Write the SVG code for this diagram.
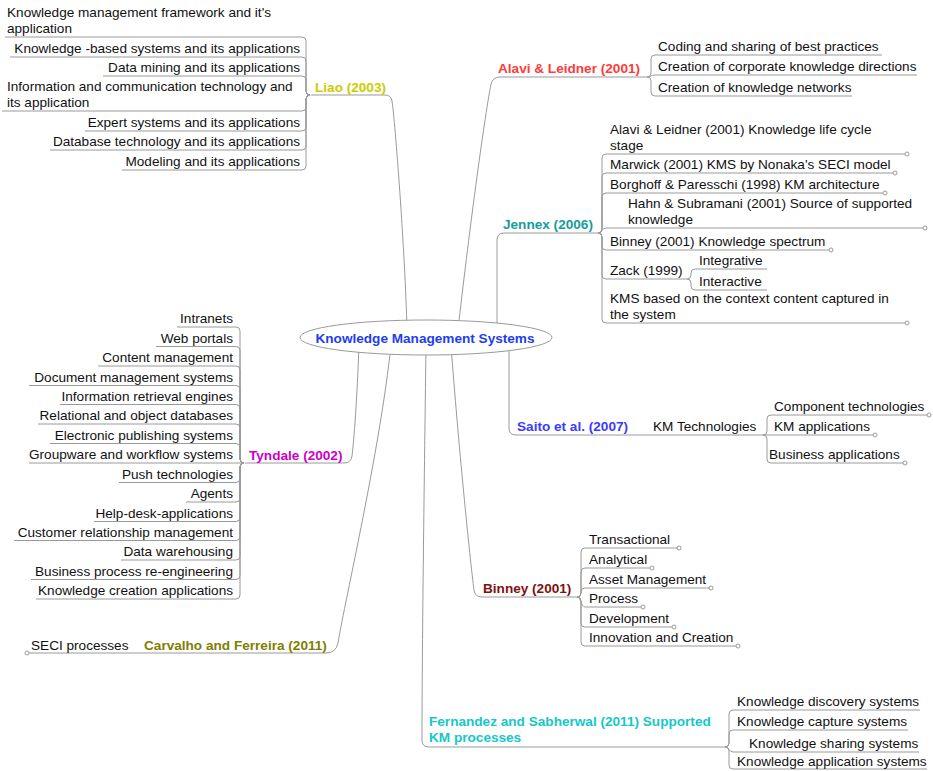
<svg xmlns="http://www.w3.org/2000/svg" width="933" height="771" viewBox="0 0 933 771">
<style>
text{font-family:"Liberation Sans",Arial,sans-serif;font-size:13.6px;fill:#111}
.b{font-weight:bold}
.e{text-anchor:end}
.c{fill:none;stroke:#9a9a9a;stroke-width:1}
.d{fill:#fff;stroke:#9a9a9a;stroke-width:1}
</style>
<rect width="933" height="771" fill="#fff"/>
<g id="connectors">
<!-- main branches -->
<path class="c" d="M407,330 C405,250 395,120 392,101 Q391,95 385,95 H311"/>
<path class="c" d="M458,330 C468,240 484,120 491,84 Q493,77 500,77 H647"/>
<path class="c" d="M497,330 V240 Q497,233 504,233 H598"/>
<path class="c" d="M509,345 V428 Q509,435 516,435 H763"/>
<path class="c" d="M451,345 C458,440 470,560 474,590 Q475,597 482,597 H577"/>
<path class="c" d="M426,345 C424,500 422,650 422,740 Q422,747 429,747 H725"/>
<path class="c" d="M391,345 C380,450 345,600 338,643 Q336,653 326,653 H29"/>
<path class="c" d="M359,345 C357,400 354,440 352,456 Q351,463 344,463 H245"/>
<!-- Liao children -->
<path class="c" d="M310,95 Q306,95 306,91 V41 Q306,37 302,37 H5"/>
<path class="c" d="M310,95 Q306,95 306,91 V61 Q306,57 302,57 H10"/>
<path class="c" d="M310,95 Q306,95 306,91 V80 Q306,76 302,76 H103"/>
<path class="c" d="M310,95 Q306,95 306,99 V107 Q306,111 302,111 H2"/>
<path class="c" d="M310,95 Q306,95 306,99 V127 Q306,131 302,131 H85"/>
<path class="c" d="M310,95 Q306,95 306,99 V146 Q306,150 302,150 H50"/>
<path class="c" d="M310,95 Q306,95 306,99 V166 Q306,170 302,170 H122"/>
<!-- Tyndale children -->
<path class="c" d="M244,463 Q240,463 240,459 V331 Q240,327 236,327 H177"/>
<path class="c" d="M244,463 Q240,463 240,459 V350.5 Q240,346.5 236,346.5 H156"/>
<path class="c" d="M244,463 Q240,463 240,459 V370 Q240,366 236,366 H98"/>
<path class="c" d="M244,463 Q240,463 240,459 V389.5 Q240,385.5 236,385.5 H29"/>
<path class="c" d="M244,463 Q240,463 240,459 V408.5 Q240,404.5 236,404.5 H60"/>
<path class="c" d="M244,463 Q240,463 240,459 V428 Q240,424 236,424 H38"/>
<path class="c" d="M244,463 Q240,463 240,459 V447.5 Q240,443.5 236,443.5 H50"/>
<path class="c" d="M244,463 H29"/>
<path class="c" d="M244,463 Q240,463 240,467 V478.5 Q240,482.5 236,482.5 H119"/>
<path class="c" d="M244,463 Q240,463 240,467 V498 Q240,502 236,502 H186"/>
<path class="c" d="M244,463 Q240,463 240,467 V517.5 Q240,521.5 236,521.5 H94"/>
<path class="c" d="M244,463 Q240,463 240,467 V536.5 Q240,540.5 236,540.5 H14"/>
<path class="c" d="M244,463 Q240,463 240,467 V556 Q240,560 236,560 H121"/>
<path class="c" d="M244,463 Q240,463 240,467 V575.5 Q240,579.5 236,579.5 H31"/>
<path class="c" d="M244,463 Q240,463 240,467 V595 Q240,599 236,599 H36"/>
<!-- Alavi children -->
<path class="c" d="M647,77 Q651,77 651,73 V59 Q651,55 655,55 H882"/>
<path class="c" d="M647,77 C651,77 651,75 655,75 H917"/>
<path class="c" d="M647,77 Q651,77 651,81 V92 Q651,96 655,96 H852"/>
<!-- Jennex children -->
<path class="c" d="M598,233 Q602,233 602,229 V158 Q602,154 606,154 H905"/>
<path class="c" d="M598,233 Q602,233 602,229 V177 Q602,173 606,173 H893"/>
<path class="c" d="M598,233 Q602,233 602,229 V197 Q602,193 606,193 H883"/>
<path class="c" d="M598,233 C602,233 602,228 606,228 H923"/>
<path class="c" d="M598,233 Q602,233 602,237 V246 Q602,250 606,250 H829"/>
<path class="c" d="M598,233 Q602,233 602,237 V275 Q602,279 606,279 H687"/>
<path class="c" d="M598,233 Q602,233 602,237 V319 Q602,323 606,323 H905"/>
<!-- Zack children -->
<path class="c" d="M687,279 Q691,279 691,275 V273 Q691,269 695,269 H767"/>
<path class="c" d="M687,279 Q691,279 691,283 V286 Q691,290 695,290 H767"/>
<!-- KM Technologies children -->
<path class="c" d="M763,435 Q767,435 767,431 V419 Q767,415 771,415 H927"/>
<path class="c" d="M763,435 H873"/>
<path class="c" d="M763,435 Q767,435 767,439 V459 Q767,463 771,463 H903"/>
<!-- Binney children -->
<path class="c" d="M577,597 Q581,597 581,593 V552 Q581,548 585,548 H677"/>
<path class="c" d="M577,597 Q581,597 581,593 V572 Q581,568 585,568 H650"/>
<path class="c" d="M577,597 Q581,597 581,593 V592 Q581,588 585,588 H709"/>
<path class="c" d="M577,597 C581,597 581,607 585,607 H641"/>
<path class="c" d="M577,597 Q581,597 581,601 V623 Q581,627 585,627 H672"/>
<path class="c" d="M577,597 Q581,597 581,601 V642 Q581,646 585,646 H736"/>
<!-- Fernandez children -->
<path class="c" d="M725,747 Q729,747 729,743 V714 Q729,710 733,710 H920"/>
<path class="c" d="M725,747 Q729,747 729,743 V734 Q729,730 733,730 H908"/>
<path class="c" d="M725,747 C729,747 729,752 733,752 H919"/>
<path class="c" d="M725,747 Q729,747 729,751 V765 Q729,769 733,769 H927"/>
<!-- end markers -->
<circle class="d" cx="907" cy="154" r="2"/>
<circle class="d" cx="895" cy="173" r="2"/>
<circle class="d" cx="885" cy="193" r="2"/>
<circle class="d" cx="925" cy="228" r="2"/>
<circle class="d" cx="831" cy="250" r="2"/>
<circle class="d" cx="907" cy="323" r="2"/>
<circle class="d" cx="929" cy="415" r="2"/>
<circle class="d" cx="875" cy="435" r="2"/>
<circle class="d" cx="905" cy="463" r="2"/>
<circle class="d" cx="679" cy="548" r="2"/>
<circle class="d" cx="652" cy="568" r="2"/>
<circle class="d" cx="711" cy="588" r="2"/>
<circle class="d" cx="643" cy="607" r="2"/>
<circle class="d" cx="674" cy="627" r="2"/>
<circle class="d" cx="738" cy="646" r="2"/>
<circle class="d" cx="27" cy="653" r="2"/>
</g>
<g id="center">
<ellipse cx="426" cy="337.5" rx="126" ry="17.5" fill="#fff" stroke="#9a9a9a" stroke-width="1"/>
<text class="b" x="425" y="343" text-anchor="middle" style="fill:#1e3cf0">Knowledge Management Systems</text>
</g>
<g id="liao">
<text class="b" x="315" y="92" style="fill:#cccc00">Liao (2003)</text>
</g>
<g id="liao-children">
<text x="7" y="17">Knowledge management framework and it's</text>
<text x="7" y="33">application</text>
<text class="e" x="300" y="53">Knowledge -based systems and its applications</text>
<text class="e" x="300" y="72">Data mining and its applications</text>
<text x="7" y="91">Information and communication technology and</text>
<text x="7" y="107">its application</text>
<text class="e" x="300" y="127">Expert systems and its applications</text>
<text class="e" x="300" y="146">Database technology and its applications</text>
<text class="e" x="300" y="166">Modeling and its applications</text>
</g>
<g id="alavi">
<text class="b" x="498" y="73" style="fill:#ff3b3b">Alavi &amp; Leidner (2001)</text>
</g>
<g id="alavi-children">
<text x="658" y="51">Coding and sharing of best practices</text>
<text x="658" y="71">Creation of corporate knowledge directions</text>
<text x="658" y="92">Creation of knowledge networks</text>
</g>
<g id="jennex">
<text class="b" x="503" y="229" style="fill:#169c9c">Jennex (2006)</text>
</g>
<g id="jennex-children">
<text x="610" y="134">Alavi &amp; Leidner (2001) Knowledge life cycle</text>
<text x="610" y="150">stage</text>
<text x="610" y="169">Marwick (2001) KMS by Nonaka's SECI model</text>
<text x="610" y="189">Borghoff &amp; Paresschi (1998) KM architecture</text>
<text x="628" y="208">Hahn &amp; Subramani (2001) Source of supported</text>
<text x="628" y="224">knowledge</text>
<text x="610" y="246">Binney (2001) Knowledge spectrum</text>
<text x="610" y="303">KMS based on the context content captured in</text>
<text x="610" y="319">the system</text>
</g>
<g id="zack">
<text x="610" y="275">Zack (1999)</text>
<text x="699" y="265">Integrative</text>
<text x="699" y="286">Interactive</text>
</g>
<g id="saito">
<text class="b" x="517" y="431" style="fill:#3b3bff">Saito et al. (2007)</text>
</g>
<g id="km-technologies">
<text x="653" y="431">KM Technologies</text>
<text x="774" y="411">Component technologies</text>
<text x="774" y="431">KM applications</text>
<text x="769" y="459">Business applications</text>
</g>
<g id="binney">
<text class="b" x="483" y="593" style="fill:#7f1010">Binney (2001)</text>
</g>
<g id="binney-children">
<text x="589" y="544">Transactional</text>
<text x="589" y="564">Analytical</text>
<text x="589" y="584">Asset Management</text>
<text x="589" y="603">Process</text>
<text x="589" y="623">Development</text>
<text x="589" y="642">Innovation and Creation</text>
</g>
<g id="fernandez">
<text class="b" x="429" y="726" style="fill:#14c8c8">Fernandez and Sabherwal (2011) Supported</text>
<text class="b" x="429" y="742" style="fill:#14c8c8">KM processes</text>
</g>
<g id="fernandez-children">
<text x="737" y="706">Knowledge discovery systems</text>
<text x="737" y="726">Knowledge capture systems</text>
<text x="749" y="748">Knowledge sharing systems</text>
<text x="737" y="766">Knowledge application systems</text>
</g>
<g id="carvalho">
<text class="b" x="144" y="650" style="fill:#808000">Carvalho and Ferreira (2011)</text>
<text x="31" y="650">SECI processes</text>
</g>
<g id="tyndale">
<text class="b" x="249" y="460" style="fill:#cc00cc">Tyndale (2002)</text>
</g>
<g id="tyndale-children">
<text class="e" x="233" y="323">Intranets</text>
<text class="e" x="233" y="342.5">Web portals</text>
<text class="e" x="233" y="362">Content management</text>
<text class="e" x="233" y="381.5">Document management systems</text>
<text class="e" x="233" y="400.5">Information retrieval engines</text>
<text class="e" x="233" y="420">Relational and object databases</text>
<text class="e" x="233" y="439.5">Electronic publishing systems</text>
<text class="e" x="233" y="459">Groupware and workflow systems</text>
<text class="e" x="233" y="478.5">Push technologies</text>
<text class="e" x="233" y="498">Agents</text>
<text class="e" x="233" y="517.5">Help-desk-applications</text>
<text class="e" x="233" y="536.5">Customer relationship management</text>
<text class="e" x="233" y="556">Data warehousing</text>
<text class="e" x="233" y="575.5">Business process re-engineering</text>
<text class="e" x="233" y="595">Knowledge creation applications</text>
</g>
</svg>
